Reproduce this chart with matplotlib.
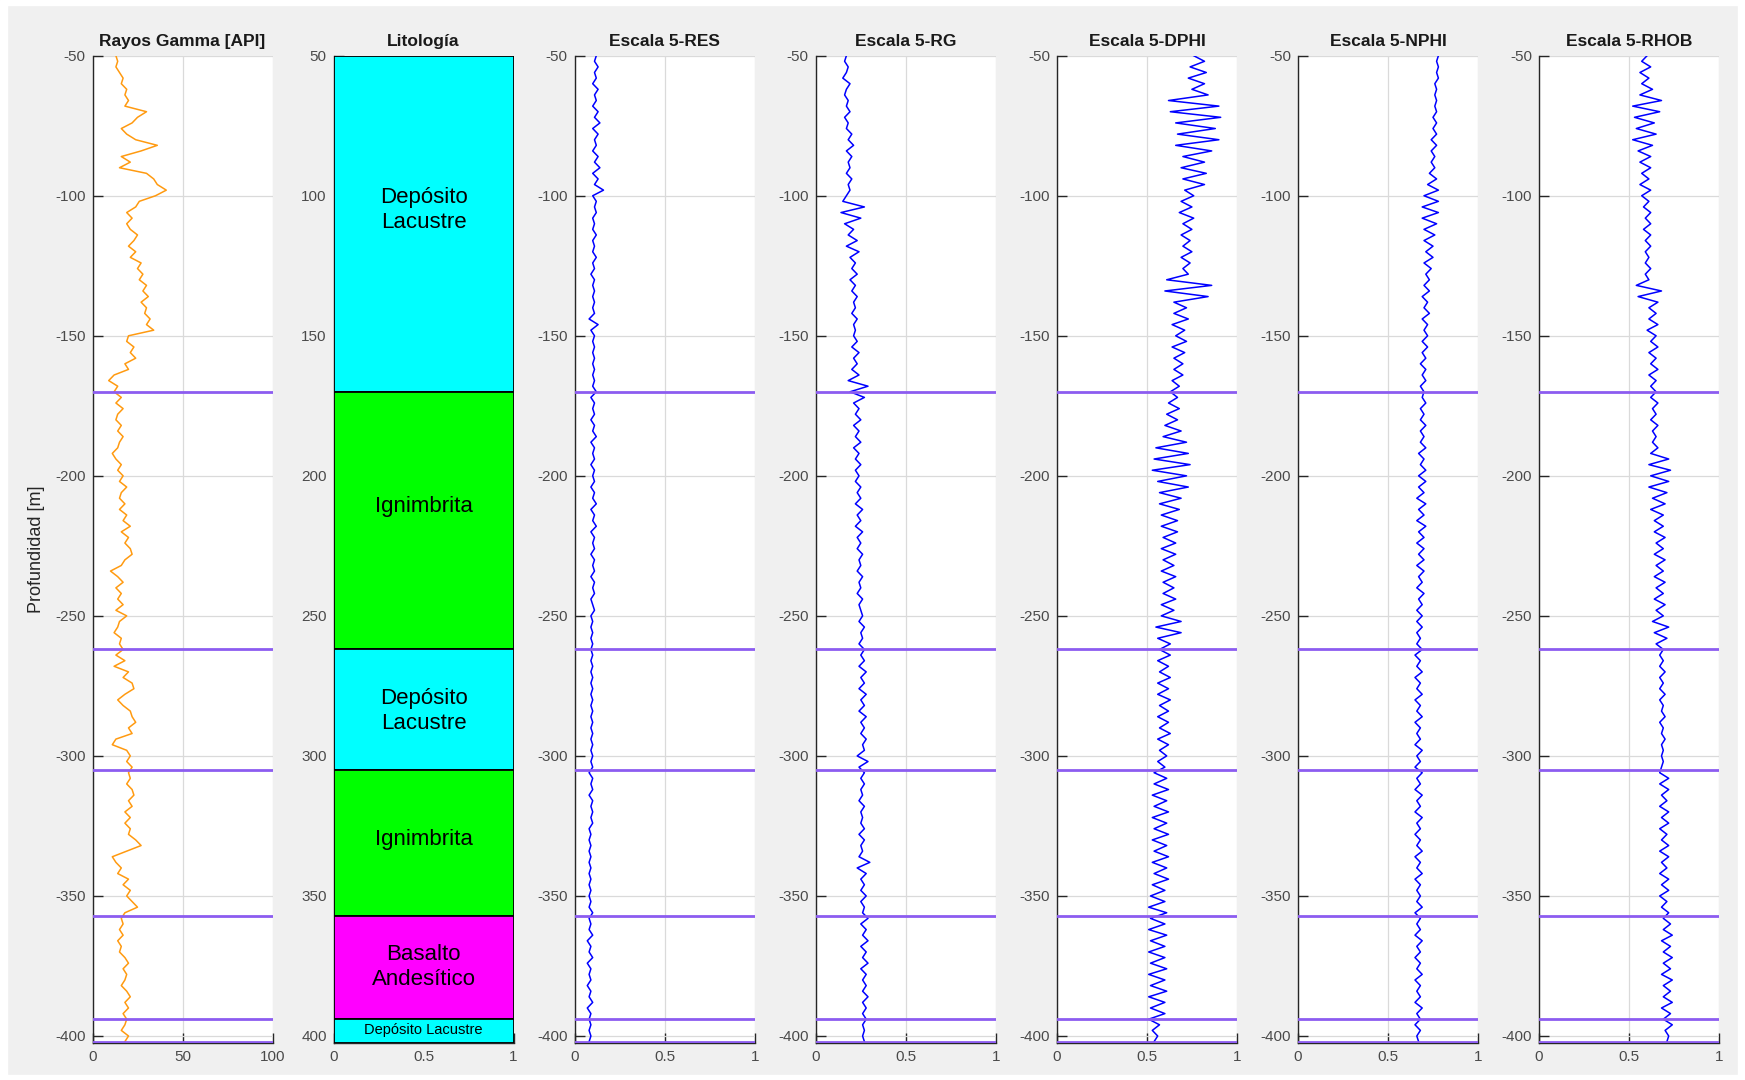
import numpy as np
import matplotlib
matplotlib.use('Agg')
import matplotlib.pyplot as plt
from matplotlib.patches import Rectangle

# ---------------- data ----------------
depth_top = -50.0      # first sample depth [m]
depth_step = 2.0       # sampling interval [m]

gamma = [13, 14, 13, 15, 17, 16, 19, 18, 20, 18, 30, 25, 22, 16, 19, 24, 36, 27, 16, 21, 15, 30, 34, 36, 41,
         35, 26, 24, 19, 22, 19, 21, 25, 23, 20, 24, 21, 27, 25, 28, 26, 30, 28, 31, 27, 30, 29, 32, 30, 34,
         20, 19, 23, 21, 24, 18, 20, 12, 9, 14, 12, 16, 13, 17, 14, 13, 16, 14, 17, 15, 14, 11, 13, 16, 14,
         17, 15, 19, 16, 15, 18, 15, 19, 17, 21, 16, 20, 18, 21, 22, 18, 16, 10, 14, 17, 13, 16, 14, 17, 13,
         19, 15, 14, 12, 16, 15, 17, 13, 18, 12, 20, 17, 22, 23, 18, 14, 17, 21, 22, 24, 20, 22, 13, 11, 19,
         21, 19, 22, 20, 21, 19, 22, 23, 20, 22, 18, 21, 18, 21, 20, 24, 27, 19, 11, 13, 16, 14, 20, 17, 21,
         19, 22, 25, 18, 16, 17, 15, 17, 14, 16, 15, 18, 20, 17, 19, 18, 16, 19, 21, 18, 20, 17, 19, 18, 16,
         20, 18]

res = [0.12, 0.11, 0.13, 0.11, 0.12, 0.10, 0.13, 0.11, 0.12, 0.10, 0.13, 0.11, 0.14, 0.10, 0.13, 0.11, 0.12, 0.10, 0.13, 0.11, 0.14, 0.10, 0.13, 0.11, 0.16,
       0.10, 0.12, 0.11, 0.12, 0.10, 0.11, 0.10, 0.12, 0.10, 0.11, 0.10, 0.12, 0.10, 0.11, 0.09, 0.11, 0.10, 0.11, 0.10, 0.11, 0.10, 0.11, 0.08, 0.13, 0.09,
       0.11, 0.10, 0.11, 0.10, 0.11, 0.10, 0.11, 0.10, 0.11, 0.10, 0.12, 0.09, 0.11, 0.10, 0.11, 0.09, 0.11, 0.10, 0.12, 0.09, 0.11, 0.10, 0.11, 0.09, 0.11,
       0.10, 0.11, 0.09, 0.11, 0.10, 0.12, 0.09, 0.11, 0.10, 0.12, 0.09, 0.11, 0.10, 0.11, 0.09, 0.11, 0.10, 0.11, 0.09, 0.11, 0.10, 0.11, 0.09, 0.10, 0.11,
       0.09, 0.10, 0.09, 0.10, 0.09, 0.10, 0.09, 0.10, 0.09, 0.10, 0.09, 0.10, 0.09, 0.10, 0.09, 0.10, 0.09, 0.10, 0.09, 0.10, 0.09, 0.10, 0.09, 0.10, 0.09,
       0.10, 0.09, 0.10, 0.08, 0.10, 0.09, 0.10, 0.08, 0.10, 0.09, 0.10, 0.09, 0.10, 0.08, 0.09, 0.08, 0.09, 0.08, 0.09, 0.08, 0.09, 0.08, 0.09, 0.08, 0.09,
       0.08, 0.09, 0.08, 0.10, 0.08, 0.09, 0.08, 0.10, 0.07, 0.09, 0.08, 0.10, 0.07, 0.09, 0.08, 0.09, 0.07, 0.09, 0.08, 0.10, 0.07, 0.09, 0.08, 0.09, 0.08,
       0.09, 0.08]

rg = [0.17, 0.16, 0.18, 0.17, 0.15, 0.19, 0.17, 0.16, 0.18, 0.17, 0.19, 0.16, 0.18, 0.17, 0.20, 0.18, 0.21, 0.17, 0.20, 0.18, 0.19, 0.17, 0.20, 0.18, 0.19,
      0.17, 0.15, 0.27, 0.14, 0.25, 0.16, 0.21, 0.18, 0.23, 0.17, 0.24, 0.19, 0.22, 0.20, 0.23, 0.19, 0.22, 0.20, 0.23, 0.21, 0.22, 0.20, 0.23, 0.21, 0.22,
      0.21, 0.23, 0.20, 0.24, 0.21, 0.23, 0.20, 0.24, 0.18, 0.29, 0.19, 0.27, 0.21, 0.24, 0.22, 0.25, 0.21, 0.24, 0.22, 0.25, 0.21, 0.24, 0.22, 0.25, 0.22,
      0.24, 0.22, 0.25, 0.23, 0.25, 0.22, 0.26, 0.23, 0.25, 0.22, 0.26, 0.23, 0.25, 0.23, 0.26, 0.24, 0.25, 0.23, 0.26, 0.24, 0.25, 0.23, 0.26, 0.24, 0.25,
      0.26, 0.24, 0.27, 0.25, 0.26, 0.24, 0.27, 0.25, 0.27, 0.24, 0.28, 0.25, 0.27, 0.24, 0.28, 0.25, 0.27, 0.24, 0.28, 0.25, 0.27, 0.25, 0.28, 0.26, 0.27,
      0.23, 0.29, 0.24, 0.27, 0.25, 0.27, 0.25, 0.26, 0.24, 0.27, 0.25, 0.26, 0.25, 0.27, 0.24, 0.27, 0.25, 0.26, 0.24, 0.30, 0.23, 0.28, 0.25, 0.27, 0.25,
      0.28, 0.25, 0.27, 0.26, 0.29, 0.25, 0.28, 0.26, 0.29, 0.25, 0.28, 0.26, 0.29, 0.25, 0.28, 0.26, 0.28, 0.26, 0.29, 0.26, 0.28, 0.26, 0.28, 0.26, 0.27,
      0.26, 0.27]

dphi = [0.76, 0.82, 0.74, 0.83, 0.73, 0.82, 0.75, 0.84,
        0.62, 0.90, 0.63, 0.91,
        0.66, 0.88, 0.67, 0.90, 0.66, 0.86,
        0.70, 0.82, 0.69, 0.83, 0.70, 0.82, 0.71,
        0.76, 0.69, 0.75, 0.68, 0.76, 0.70, 0.75, 0.69, 0.74, 0.70, 0.75, 0.69, 0.74, 0.70, 0.73,
        0.61, 0.86, 0.60, 0.84, 0.65,
        0.72, 0.65, 0.73, 0.64, 0.71, 0.66, 0.72, 0.64, 0.71, 0.65, 0.70, 0.65, 0.70,
        0.64, 0.68, 0.63, 0.67, 0.62, 0.68, 0.61, 0.67, 0.60, 0.69, 0.59,
        0.72, 0.55, 0.73, 0.54, 0.74, 0.53, 0.72, 0.56, 0.73, 0.57,
        0.69, 0.57, 0.68, 0.58, 0.67, 0.58, 0.67, 0.59,
        0.66, 0.58, 0.66, 0.59, 0.65, 0.58, 0.66, 0.59, 0.65, 0.59, 0.66, 0.58, 0.65, 0.58,
        0.69, 0.55, 0.69, 0.56,
        0.63, 0.57, 0.63, 0.56, 0.62, 0.57, 0.63, 0.56, 0.62, 0.56, 0.63, 0.57, 0.62, 0.56, 0.62, 0.57, 0.63, 0.56, 0.62, 0.57, 0.61, 0.56, 0.60,
        0.54, 0.61, 0.54, 0.62, 0.53, 0.61, 0.54, 0.62, 0.53, 0.61, 0.54, 0.62, 0.53, 0.61, 0.54, 0.62, 0.53, 0.61, 0.54, 0.62, 0.53, 0.60,
        0.52, 0.60, 0.51, 0.61, 0.52, 0.60, 0.51, 0.61, 0.52, 0.60, 0.51, 0.60, 0.52, 0.61, 0.51, 0.60, 0.52, 0.61, 0.51, 0.60, 0.52, 0.60, 0.51,
        0.57, 0.53, 0.56, 0.54]

nphi = [0.78, 0.77, 0.78, 0.77, 0.78, 0.76, 0.77, 0.76, 0.77, 0.76, 0.77, 0.75, 0.77, 0.75, 0.77, 0.74, 0.77, 0.74, 0.76, 0.74, 0.76, 0.73, 0.77, 0.72, 0.78,
        0.70, 0.78, 0.69, 0.78, 0.69, 0.77, 0.70, 0.76, 0.70, 0.75, 0.71, 0.75, 0.70, 0.74, 0.71, 0.73, 0.70, 0.73, 0.69, 0.72, 0.70, 0.73, 0.69, 0.72, 0.70,
        0.72, 0.69, 0.72, 0.69, 0.71, 0.68, 0.71, 0.69, 0.71, 0.68, 0.70, 0.69, 0.71, 0.68, 0.70, 0.68, 0.71, 0.68, 0.70, 0.68, 0.71, 0.67, 0.70, 0.68, 0.71,
        0.67, 0.71, 0.67, 0.70, 0.66, 0.71, 0.67, 0.70, 0.66, 0.71, 0.67, 0.70, 0.66, 0.70, 0.67, 0.70, 0.66, 0.70, 0.67, 0.69, 0.66, 0.70, 0.67, 0.69, 0.66,
        0.69, 0.66, 0.69, 0.66, 0.68, 0.66, 0.69, 0.65, 0.68, 0.66, 0.69, 0.65, 0.68, 0.66, 0.69, 0.65, 0.68, 0.66, 0.69, 0.65, 0.68, 0.66, 0.68, 0.65, 0.69,
        0.66, 0.68, 0.65, 0.69, 0.66, 0.68, 0.65, 0.69, 0.66, 0.68, 0.65, 0.69, 0.66, 0.68, 0.65, 0.68, 0.66, 0.69, 0.65, 0.68, 0.66, 0.69, 0.65, 0.68, 0.66,
        0.68, 0.66, 0.69, 0.65, 0.68, 0.66, 0.68, 0.65, 0.69, 0.66, 0.68, 0.65, 0.68, 0.66, 0.69, 0.65, 0.68, 0.66, 0.68, 0.65, 0.69, 0.66, 0.68, 0.65, 0.68,
        0.66, 0.67]

rhob = [0.60, 0.57, 0.62, 0.56, 0.61, 0.57, 0.63, 0.56,
        0.68, 0.52, 0.67, 0.53,
        0.64, 0.54, 0.65, 0.52, 0.63, 0.55,
        0.62, 0.56, 0.62, 0.57, 0.61, 0.56, 0.62, 0.57, 0.61, 0.58,
        0.62, 0.59, 0.62, 0.58, 0.62, 0.59, 0.62, 0.59, 0.61, 0.59, 0.62, 0.59, 0.61,
        0.54, 0.68, 0.55, 0.66,
        0.61, 0.65, 0.61, 0.66, 0.60, 0.65, 0.62, 0.66, 0.61, 0.65, 0.62, 0.66, 0.61, 0.65, 0.62,
        0.65, 0.62, 0.66, 0.63, 0.65, 0.62, 0.66, 0.63, 0.65, 0.63, 0.66, 0.62,
        0.72, 0.61, 0.73, 0.62, 0.72, 0.61, 0.71, 0.63, 0.70, 0.62, 0.69,
        0.64, 0.69, 0.64, 0.70, 0.65, 0.69, 0.64, 0.70, 0.65, 0.69, 0.64, 0.70, 0.65, 0.69, 0.64, 0.70, 0.65, 0.69,
        0.63, 0.72, 0.64, 0.71, 0.65,
        0.69, 0.67, 0.69, 0.67, 0.70, 0.67, 0.69, 0.67, 0.70, 0.67, 0.69, 0.68, 0.70, 0.67, 0.69, 0.68, 0.70, 0.68, 0.69, 0.68, 0.69, 0.68,
        0.67, 0.72, 0.67, 0.72, 0.68, 0.71, 0.67, 0.72, 0.68, 0.72, 0.67, 0.71, 0.68, 0.72, 0.67, 0.72, 0.68, 0.71, 0.67, 0.72, 0.68, 0.72, 0.67, 0.71, 0.68, 0.72,
        0.69, 0.73, 0.69, 0.74, 0.68, 0.73, 0.69, 0.74, 0.69, 0.73, 0.68, 0.74, 0.69, 0.73, 0.69, 0.74, 0.68, 0.73, 0.69, 0.74, 0.70, 0.72, 0.71]

panel_titles = ['Rayos Gamma [API]', 'Litología', 'Escala 5-RES', 'Escala 5-RG',
                'Escala 5-DPHI', 'Escala 5-NPHI', 'Escala 5-RHOB']
log_curves = [res, rg, dphi, nphi, rhob]

boundaries = [170, 262, 305, 357, 394, 402]          # formation contacts [m]
litho_tops = [50, 170, 262, 305, 357, 394]
litho_bottoms = [170, 262, 305, 357, 394, 402.5]
litho_names = ['Depósito\nLacustre', 'Ignimbrita', 'Depósito\nLacustre', 'Ignimbrita',
               'Basalto\nAndesítico', 'Depósito Lacustre']
litho_label_depths = [105, 211, 284, 330, 375.5, 398]
litho_colors = ['#00ffff', '#00ff00', '#00ffff', '#00ff00', '#ff00ff', '#00ffff']

depth_ticks = [50, 100, 150, 200, 250, 300, 350, 400]

# ---------------- style ----------------
plt.rcParams['font.family'] = ['Liberation Sans', 'DejaVu Sans']
plt.rcParams['axes.unicode_minus'] = False

PURPLE = '#8c5cf0'
ORANGE = '#ff9a10'
BLUE = '#0000ff'
TICK_LABEL = '#4a4a4a'
SPINE = '#262626'

W_PX, H_PX = 1745, 1080
fig = plt.figure(figsize=(W_PX / 100, H_PX / 100), dpi=100, facecolor='#f0f0f0')

# white screenshot margins
for (x, y, w, h) in [(0, 0, 7, H_PX), (0, H_PX - 5, W_PX, 5), (W_PX - 7, 0, 7, H_PX), (0, 0, W_PX, 5)]:
    fig.patches.append(Rectangle((x / W_PX, 1 - (y + h) / H_PX), w / W_PX, h / H_PX,
                                 transform=fig.transFigure, color='white', zorder=-5))

left0, step, width = 92.5 / W_PX, 241.1 / W_PX, 180.0 / W_PX
top_px, bot_px = 55.7, 1043.0
bottom, height = 1 - bot_px / H_PX, (bot_px - top_px) / H_PX
axes = [fig.add_axes([left0 + i * step, bottom, width, height]) for i in range(7)]


def style(ax):
    ax.set_facecolor('white')
    for s in ['top', 'right']:
        ax.spines[s].set_visible(False)
    for s in ['left', 'bottom']:
        ax.spines[s].set_color(SPINE)
        ax.spines[s].set_linewidth(1.0)
    ax.tick_params(direction='in', length=7, width=1.0, colors=SPINE,
                   labelcolor=TICK_LABEL, labelsize=11, pad=5)
    ax.set_axisbelow(True)


def depth_of(values):
    return depth_top - depth_step * np.arange(len(values))


# Gamma ray
ax = axes[0]
style(ax)
ax.grid(True, color='#dadada', lw=0.9)
ax.plot(gamma, depth_of(gamma), color=ORANGE, lw=1.1)
ax.set_xlim(0, 100)
ax.set_xticks([0, 50, 100])
ax.set_xticklabels(['0', '50', '100'])
ax.set_ylim(-402.5, -50)
ax.set_yticks([-d for d in depth_ticks])
ax.set_yticklabels([str(-d) for d in depth_ticks])
for b in boundaries:
    ax.axhline(-b, color=PURPLE, lw=2.0, zorder=4)

# Lithology
ax = axes[1]
style(ax)
heights = [b - t for t, b in zip(litho_tops, litho_bottoms)]
ax.bar([0.5] * len(heights), heights, bottom=litho_tops, width=1.0, color=litho_colors,
       edgecolor='black', linewidth=1.3, zorder=3)
for i, (name, d) in enumerate(zip(litho_names, litho_label_depths)):
    fs = 10.5 if i == len(litho_names) - 1 else 16
    ax.text(0.5, d, name, ha='center', va='center', fontsize=fs, color='black',
            linespacing=1.25, zorder=5)
ax.set_xlim(0, 1)
ax.set_ylim(402.5, 50)
ax.set_xticks([0, 0.5, 1])
ax.set_xticklabels(['0', '0.5', '1'])
ax.set_yticks(depth_ticks)
ax.set_yticklabels([str(d) for d in depth_ticks])

# Log panels
for ax, curve in zip(axes[2:], log_curves):
    style(ax)
    ax.grid(True, color='#dadada', lw=0.9)
    ax.plot(curve, depth_of(curve), color=BLUE, lw=1.1)
    ax.set_xlim(0, 1)
    ax.set_xticks([0, 0.5, 1])
    ax.set_xticklabels(['0', '0.5', '1'])
    ax.set_ylim(-402.5, -50)
    ax.set_yticks([-d for d in depth_ticks])
    ax.set_yticklabels([str(-d) for d in depth_ticks])
    for b in boundaries:
        ax.axhline(-b, color=PURPLE, lw=2.0, zorder=4)

for ax, t in zip(axes, panel_titles):
    ax.set_title(t, fontsize=12.5, fontweight='bold', color='#1a1a1a', pad=7)

fig.text(36.5 / W_PX, 1 - 549 / H_PX, 'Profundidad [m]', rotation=90, ha='center', va='center',
         fontsize=13, color='#262626')

fig.savefig('out.png', dpi=100, facecolor=fig.get_facecolor())
